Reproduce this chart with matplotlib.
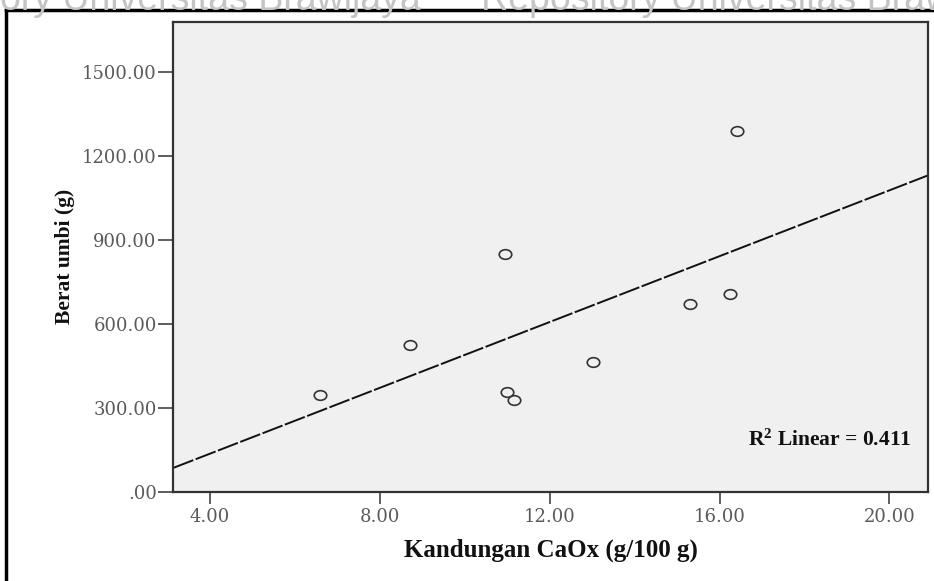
import numpy as np
import matplotlib
matplotlib.use("Agg")
import matplotlib.pyplot as plt
from matplotlib.lines import Line2D
from matplotlib.path import Path
from matplotlib.transforms import Affine2D
from matplotlib.ticker import FuncFormatter

# data (Kandungan CaOx vs Berat umbi)
caox = [16.40, 10.95, 16.24, 15.30, 8.71, 13.01, 6.59, 10.99, 11.15]
berat = [1289, 848, 707, 670, 525, 464, 345, 355, 328]
xticks = [4, 8, 12, 16, 20]
yticks = [0, 300, 600, 900, 1200, 1500]
r2_text = r"$\mathbf{R^2}$ Linear = 0.411"

serif = "Liberation Serif"
tickfont = "DejaVu Serif"

plt.rcParams["mathtext.fontset"] = "custom"
plt.rcParams["mathtext.bf"] = "Liberation Serif:bold"
plt.rcParams["mathtext.rm"] = "Liberation Serif"

fig = plt.figure(figsize=(9.34, 5.81), dpi=100)
ax = fig.add_axes([0.1856, 0.1537, 0.8077, 0.809])
ax.set_facecolor("#f0f0f0")

xlo, xhi = 3.136, 20.904
ax.set_xlim(xlo, xhi)
ax.set_ylim(0, 1678)

# fit line
b, a = np.polyfit(caox, berat, 1)
xs = np.array([xlo, xhi])
ax.plot(xs, a + b * xs, color="#111111", lw=1.4, ls=(0, (11, 1.3)))

# circles look a bit wide in the scan
ell = Affine2D().scale(1.3, 1.0).transform_path(Path.unit_circle())
ax.plot(caox, berat, ls="none", marker=ell, ms=9, mfc="none",
        mec="#333333", mew=1.2)

ax.set_xticks(xticks)
ax.set_yticks(yticks)
ax.xaxis.set_major_formatter(FuncFormatter(lambda v, p: "%.2f" % v))
ax.yaxis.set_major_formatter(FuncFormatter(lambda v, p: ("%.2f" % v).lstrip("0") if v == 0 else "%.2f" % v))
ax.tick_params(axis="y", length=11, width=1.1, color="#333333", pad=1,
               labelsize=13, labelcolor="#5a5a5a")
ax.tick_params(axis="x", length=8.5, width=1.1, color="#333333", pad=3,
               labelsize=13, labelcolor="#5a5a5a")
for lab in ax.get_xticklabels() + ax.get_yticklabels():
    lab.set_fontfamily(tickfont)
    lab.set_fontweight("light")

for s in ax.spines.values():
    s.set_color("#333333")
    s.set_linewidth(1.6)

ax.set_xlabel("Kandungan CaOx (g/100 g)", fontsize=18, fontweight="bold",
              family=serif, color="#111111", labelpad=9)
ax.set_ylabel("Berat umbi (g)", fontsize=15.5, fontweight="bold",
              family=serif, color="#111111", labelpad=5)

ax.text(0.979, 0.11, r2_text, transform=ax.transAxes, ha="right", va="center",
        fontsize=15.5, fontweight="bold", family=serif, color="#111111")

# page watermark and frame from the scanned document
fig.text(0.0, 1.0, "ory Universitas Brawijaya", fontsize=27, color="#c4c4c4",
         va="center", ha="left", family="Liberation Sans")
fig.text(0.515, 1.0, "Repository Universitas Brawijaya", fontsize=27,
         color="#c4c4c4", va="center", ha="left", family="Liberation Sans")
fig.add_artist(Line2D([0.006, 1.0], [0.983, 0.983], transform=fig.transFigure,
                      color="black", lw=2.5))
fig.add_artist(Line2D([0.006, 0.006], [0.983, 0.0], transform=fig.transFigure,
                      color="black", lw=2.5))

fig.savefig("out.png", dpi=100)
